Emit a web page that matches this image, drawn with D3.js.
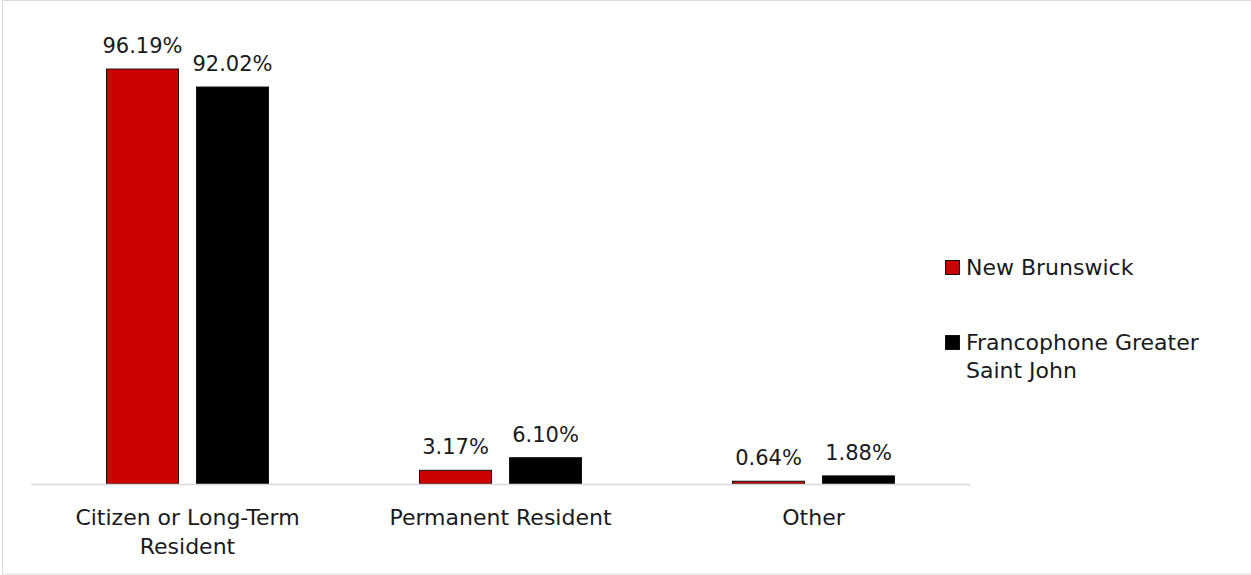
<!DOCTYPE html>
<html>
<head>
<meta charset="utf-8">
<script src="https://cdn.jsdelivr.net/npm/d3@7"></script>
<style>
  html, body { margin: 0; padding: 0; background: #fff; }
  svg { display: block; }
  text { font-family: "DejaVu Sans", sans-serif; fill: #1a1a1a; }
</style>
</head>
<body>
<svg id="chart" width="1251" height="575"></svg>
<script>
const categories = ["Citizen or Long-Term Resident", "Permanent Resident", "Other"];
const categoryLines = [["Citizen or Long-Term", "Resident"], ["Permanent Resident"], ["Other"]];
const seriesNames = ["New Brunswick", "Francophone Greater Saint John"];
const legendLines = [["New Brunswick"], ["Francophone Greater", "Saint John"]];
const newBrunswick = [96.19, 3.17, 0.64];
const francophoneGSJ = [92.02, 6.10, 1.88];
const seriesValues = [newBrunswick, francophoneGSJ];
const colors = ["#CC0000", "#000000"];

const svg = d3.select("#chart");

// outer border
svg.append("rect").attr("x", 2.5).attr("y", 0.5).attr("width", 1250).attr("height", 573.5)
  .attr("fill", "none").attr("stroke", "#D9D9D9").attr("stroke-width", 1);

const plotLeft = 31, plotRight = 970, baseY = 484, topY = 52.6;

const x = d3.scaleBand().domain(categories).range([plotLeft, plotRight]).padding(0);
const xInner = d3.scaleBand().domain(seriesNames).range([0, x.bandwidth()])
  .paddingInner(0.2).paddingOuter(0.839);
const y = d3.scaleLinear().domain([0, 100]).range([baseY, topY]);

const data = [];
categories.forEach((c, i) => seriesNames.forEach((s, j) => data.push({c, s, j, v: seriesValues[j][i]})));

svg.append("g").selectAll("rect").data(data).join("rect")
  .attr("x", d => x(d.c) + xInner(d.s))
  .attr("y", d => y(d.v))
  .attr("width", xInner.bandwidth())
  .attr("height", d => y(0) - y(d.v))
  .attr("fill", d => colors[d.j])
  .attr("stroke", "#111")
  .attr("stroke-width", 1);

// axis line
svg.append("line").attr("x1", plotLeft).attr("x2", plotRight).attr("y1", baseY + 0.5).attr("y2", baseY + 0.5)
  .attr("stroke", "#D9D9D9").attr("stroke-width", 1.5);

// value labels
svg.append("g").selectAll("text").data(data).join("text")
  .attr("x", d => x(d.c) + xInner(d.s) + xInner.bandwidth() / 2)
  .attr("y", d => y(d.v) - 16)
  .attr("text-anchor", "middle")
  .attr("font-size", 21)
  .text(d => d.v.toFixed(2) + "%");

// category labels
const catG = svg.append("g").selectAll("text").data(categories).join("text")
  .attr("x", d => x(d) + x.bandwidth() / 2)
  .attr("y", 525)
  .attr("text-anchor", "middle")
  .attr("font-size", 22);
catG.each(function(d, i) {
  const t = d3.select(this);
  categoryLines[i].forEach((line, k) => {
    t.append("tspan").attr("x", x(d) + x.bandwidth() / 2).attr("y", 525 + k * 28.5).text(line);
  });
});

// legend
const legendY = [275, 350];
seriesNames.forEach((s, j) => {
  svg.append("rect").attr("x", 945.5).attr("y", legendY[j] - 14.5).attr("width", 14).attr("height", 14)
    .attr("fill", colors[j]).attr("stroke", "#111").attr("stroke-width", 1);
  const t = svg.append("text").attr("x", 966).attr("y", legendY[j]).attr("font-size", 22);
  legendLines[j].forEach((line, k) => {
    t.append("tspan").attr("x", 966).attr("y", legendY[j] + k * 28).text(line);
  });
});
</script>
</body>
</html>
